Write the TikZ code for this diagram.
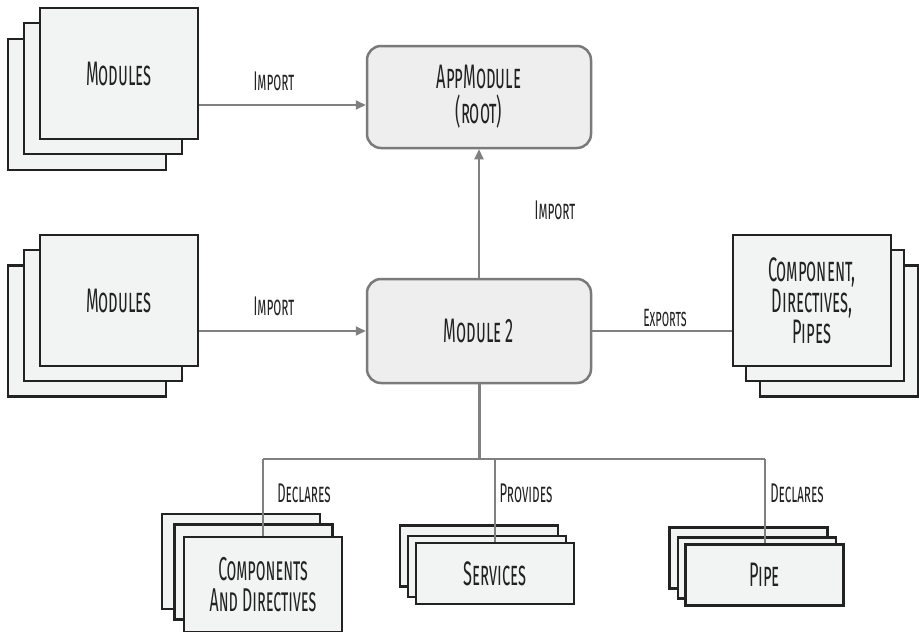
\documentclass[tikz,border=0pt]{standalone}
\usepackage{fontspec}
\usetikzlibrary{arrows.meta}
\newfontfamily\sk{Fira Sans}[FakeStretch=0.48]
\definecolor{boxfill}{HTML}{F2F3F3}
\definecolor{boxline}{HTML}{222222}
\definecolor{rfill}{HTML}{EEEEEE}
\definecolor{rline}{HTML}{7A7A7A}
\definecolor{cline}{HTML}{808080}
\tikzset{
  card/.style={draw=boxline, fill=boxfill, line width=2.5pt, minimum width=158pt, inner sep=0pt, align=center, text=boxline, font=\sk\scshape\fontsize{34}{31}\selectfont},
  rbox/.style={draw=rline, fill=rfill, line width=2.5pt, rounded corners=14pt, minimum width=224pt, inner sep=0pt, align=center, text=boxline, font=\sk\scshape\fontsize{34}{35}\selectfont},
  conn/.style={draw=cline, line width=2pt},
  arr/.style={conn, -{Triangle[length=10pt,width=9pt]}},
  lbl/.style={text=boxline, font=\sk\scshape\fontsize{27}{28}\selectfont, inner sep=0pt},
}
\begin{document}
\begin{tikzpicture}[x=1pt,y=-1pt]
\useasboundingbox (0,0) rectangle (919,632);
% Modules stack 1
\node[card, minimum height=131pt] (m1c) at (87,104.5) {};
\node[card, minimum height=131pt] (m1b) at (103,88.5) {};
\node[card, minimum height=131pt] (m1) at (119,73.5) {Modules};
% Modules stack 2
\node[card, minimum height=131pt] (m2c) at (87,331) {};
\node[card, minimum height=131pt] (m2b) at (103,315.5) {};
\node[card, minimum height=131pt] (m2) at (119,300.5) {Modules};
% Component stack
\node[card, minimum height=131pt] (cpc) at (839,331) {};
\node[card, minimum height=131pt] (cpb) at (825,315.5) {};
\node[card, minimum height=131pt] (cp) at (812,300.5) {Component,\\Directives,\\Pipes};
% root and module 2
\node[rbox, minimum height=102pt] (app) at (479,97) {AppModule\\(root)};
\node[rbox, minimum height=104pt] (mod) at (479,331) {Module 2};
% Components and directives
\node[card, minimum height=95pt] (cdc) at (241,561.5) {};
\node[card, minimum height=95pt] (cdb) at (253.5,572) {};
\node[card, minimum height=95pt, font=\sk\scshape\fontsize{33}{31}\selectfont] (cd) at (263,584.5) {Components\\And Directives};
% Services
\node[card, minimum height=61pt] (svc) at (479,556) {};
\node[card, minimum height=61pt] (svb) at (487,566.5) {};
\node[card, minimum height=61pt] (sv) at (495,573.5) {Services};
% Pipe
\node[card, minimum height=61pt] (ppc) at (748.5,558) {};
\node[card, minimum height=61pt] (ppb) at (757,568) {};
\node[card, minimum height=61pt] (pp) at (764.5,575) {Pipe};
% connectors
\coordinate (bus) at (479,459);
\draw[arr] (m1.east |- 0,105) -- (app.west |- 0,105);
\draw[arr] (m2.east |- mod.west) -- (mod.west);
\draw[arr] (mod.north) -- (app.south);
\draw[conn] (mod.east) -- (cp.west |- mod.east);
\draw[conn, line width=3pt] (mod.south) -- (bus);
\draw[conn] (cd.north |- bus) -- (pp.north |- bus);
\draw[conn] (cd.north |- bus) -- (cd.north);
\draw[conn] (sv.north |- bus) -- (sv.north);
\draw[conn] (pp.north |- bus) -- (pp.north);
% labels
\node[lbl] (l1) at (274,81) {Import};
\node[lbl] (l2) at (274,306) {Import};
\node[lbl] (l3) at (555,210) {Import};
\node[lbl, font=\sk\scshape\fontsize{25}{26}\selectfont] (l4) at (665,318) {Exports};
\node[lbl] (l5) at (304,493) {Declares};
\node[lbl] (l6) at (526,493) {Provides};
\node[lbl] (l7) at (797,493) {Declares};
\end{tikzpicture}
\end{document}
